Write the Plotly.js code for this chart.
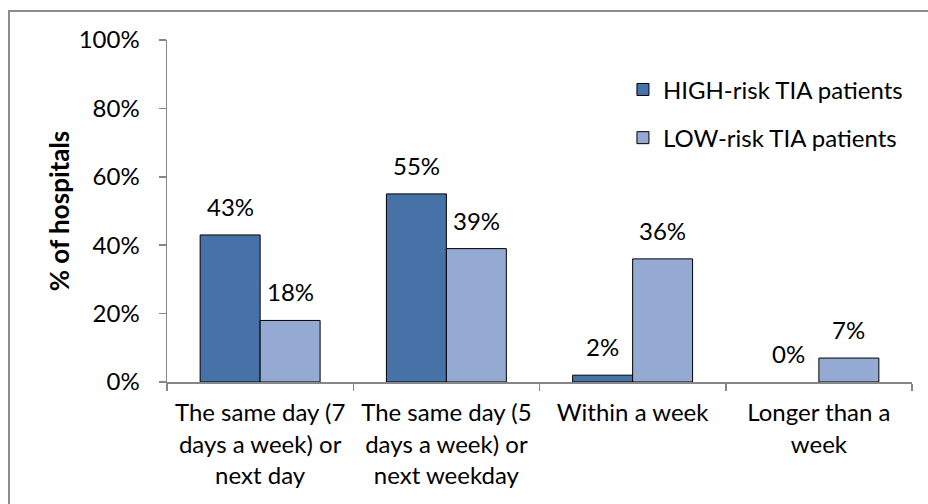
<!DOCTYPE html>
<html>
<head>
<meta charset="utf-8">
<script src="https://cdn.plot.ly/plotly-3.0.1.min.js"></script>
<style>
  html, body { margin: 0; padding: 0; background: #fff; overflow: hidden; }
  #chart { position: absolute; left: 0; top: 0; width: 928px; height: 504px; }
  #frame { position: absolute; left: 8px; top: 10px; width: 960px; height: 560px;
           border: 2px solid #8c8c8c; pointer-events: none; }
</style>
</head>
<body>
<div id="chart"></div>
<div id="frame"></div>
<script>
// Time to specialist assessment for TIA patients, share of hospitals (%)
const categories = [
  "The same day (7<br>days a week) or<br>next day",
  "The same day (5<br>days a week) or<br>next weekday",
  "Within a week",
  "Longer than a<br>week"
];
const highRisk = [43, 55, 2, 0];
const lowRisk = [18, 39, 36, 7];
const seriesNames = ["HIGH-risk TIA patients", "LOW-risk TIA patients"];
const yTicks = [0, 20, 40, 60, 80, 100];

const FONT = "Lato, 'Open Sans', sans-serif";
const SIZE = 24;
const colours = ["#4672A8", "#95AAD3"];

const traces = [highRisk, lowRisk].map((vals, i) => ({
  type: "bar",
  name: seriesNames[i],
  legendgroup: "g" + i,
  x: categories,
  y: vals,
  marker: {
    color: colours[i],
    // an empty bar draws no outline
    line: { color: "#000000", width: vals.map(v => (v > 0 ? 1 : 0)) }
  },
  hoverinfo: "skip"
}));

// value labels above each bar, shifted onto its half of the group
const labels = [];
[highRisk, lowRisk].forEach((vals, i) => {
  vals.forEach((v, j) => {
    labels.push({
      x: categories[j], y: v, xref: "x", yref: "y",
      text: v + "%", showarrow: false,
      xshift: i === 0 ? -30 : 30, yshift: 12,
      yanchor: "bottom", xanchor: "center",
      font: { family: FONT, size: SIZE, color: "#000" }
    });
  });
});

const layout = {
  width: 928, height: 504,
  margin: { l: 167, r: 16, t: 40, b: 122 },
  paper_bgcolor: "rgba(0,0,0,0)", plot_bgcolor: "rgba(0,0,0,0)",
  font: { family: FONT, size: SIZE, color: "#000" },
  barmode: "group", bargap: 0.356, bargroupgap: 0,
  showlegend: true,
  legend: {
    x: 0.612, y: 0.92, xanchor: "left", yanchor: "top",
    bgcolor: "rgba(0,0,0,0)", traceorder: "grouped", tracegroupgap: 14,
    itemwidth: 30, font: { family: FONT, size: SIZE, color: "#000" }
  },
  xaxis: {
    type: "category", showline: true, linecolor: "#868686", linewidth: 1.5,
    ticks: "outside", tickson: "boundaries", ticklen: 7, tickcolor: "#868686",
    tickwidth: 1.5, showgrid: false, zeroline: false, ticklabelstandoff: 9,
    tickfont: { family: FONT, size: SIZE, color: "#000" }, fixedrange: true
  },
  yaxis: {
    range: [0, 100], tickvals: yTicks, ticktext: yTicks.map(v => v + "%"),
    showline: true, linecolor: "#868686", linewidth: 1.5,
    ticks: "outside", ticklen: 7, tickcolor: "#868686", tickwidth: 1.5,
    showgrid: false, zeroline: false, ticklabelstandoff: 14,
    tickfont: { family: FONT, size: SIZE, color: "#000" },
    title: { text: "<b>% of hospitals</b>", standoff: 1,
             font: { family: FONT, size: 26, color: "#000" } },
    fixedrange: true
  },
  annotations: labels
};

Plotly.newPlot("chart", traces, layout, { staticPlot: true, displayModeBar: false });
</script>
</body>
</html>
